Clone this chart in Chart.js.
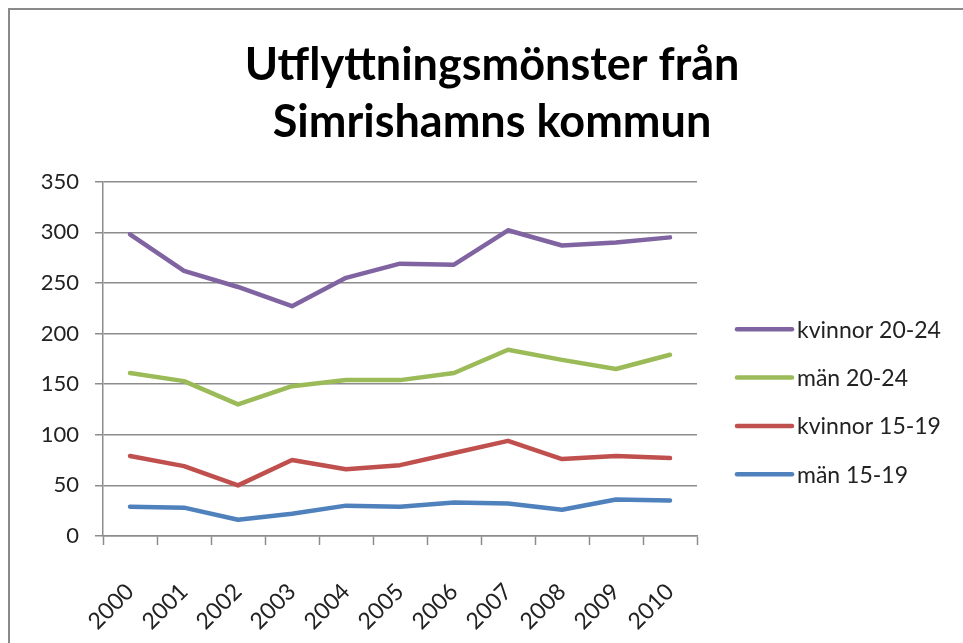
<!DOCTYPE html>
<html>
<head>
<meta charset="utf-8">
<script src="https://cdn.jsdelivr.net/npm/chart.js@4"></script>
<style>
  html, body { margin: 0; padding: 0; background: #fff; overflow: hidden; }
  #frame {
    position: absolute; left: 8px; top: 8px;
    width: 964px; height: 640px;
    border: 2px solid #8a8a8a;
  }
</style>
</head>
<body>
<div id="frame"><canvas id="grafico"></canvas></div>
<script>
// === Dados ===
const anos = ['2000', '2001', '2002', '2003', '2004', '2005', '2006', '2007', '2008', '2009', '2010'];
const kvinnor2024 = [298, 262, 246, 227, 255, 269, 268, 302, 287, 290, 295];
const man2024     = [161, 153, 130, 148, 154, 154, 161, 184, 174, 165, 179];
const kvinnor1519 = [79, 69, 50, 75, 66, 70, 82, 94, 76, 79, 77];
const man1519     = [29, 28, 16, 22, 30, 29, 33, 32, 26, 36, 35];
const yTicks = [0, 50, 100, 150, 200, 250, 300, 350];

const titel = ['Utflyttningsmönster från', 'Simrishamns kommun'];
const serieNamn = ['kvinnor 20-24', 'män 20-24', 'kvinnor 15-19', 'män 15-19'];
const farger = ['#8064A2', '#9BBB59', '#C0504D', '#4F81BD'];

const textColor = '#222';
const gridColor = '#8c8c8c';
const fontFamily = 'Lato, "Open Sans", sans-serif';

function serie(i, data) {
  return {
    label: serieNamn[i],
    data: data,
    borderColor: farger[i],
    backgroundColor: farger[i],
    borderWidth: 4.5,
    borderCapStyle: 'round',
    borderJoinStyle: 'round',
    pointRadius: 0,
    tension: 0
  };
}

// title centred over the whole frame + legend at the right, Excel style
const excelExtras = {
  id: 'excelExtras',
  afterDraw(chart) {
    const { ctx, chartArea } = chart;
    ctx.save();

    // title
    ctx.font = 'bold 45px ' + fontFamily;
    ctx.fillStyle = '#000';
    ctx.textAlign = 'center';
    ctx.textBaseline = 'middle';
    titel.forEach((rad, i) => ctx.fillText(rad, chart.width / 2, 55 + i * 57));

    // legend
    const x0 = chartArea.right + 40;
    ctx.font = '23px ' + fontFamily;
    ctx.textAlign = 'left';
    ctx.fillStyle = textColor;
    chart.data.datasets.forEach((ds, i) => {
      const y = 319.3 + i * 48.3;
      ctx.strokeStyle = ds.borderColor;
      ctx.lineWidth = 4.5;
      ctx.lineCap = 'round';
      ctx.beginPath();
      ctx.moveTo(x0, y);
      ctx.lineTo(x0 + 55, y);
      ctx.stroke();
      ctx.fillText(ds.label, x0 + 60, y + 1);
    });
    ctx.restore();
  }
};

new Chart(document.getElementById('grafico'), {
  type: 'line',
  data: {
    labels: anos,
    datasets: [
      serie(0, kvinnor2024),
      serie(1, man2024),
      serie(2, kvinnor1519),
      serie(3, man1519)
    ]
  },
  options: {
    responsive: true,
    maintainAspectRatio: false,
    animation: false,
    layout: { padding: { left: 0, right: 277, top: 171.7, bottom: 0 } },
    plugins: {
      legend: { display: false },
      tooltip: { enabled: false },
      title: { display: false }
    },
    scales: {
      x: {
        offset: true,
        grid: {
          offset: true,
          drawOnChartArea: false,
          drawTicks: true,
          tickLength: 9,
          tickWidth: 1.5,
          tickColor: gridColor
        },
        border: { display: true, color: gridColor, width: 1.5 },
        ticks: {
          color: textColor,
          font: { family: fontFamily, size: 23 },
          maxRotation: 45,
          minRotation: 45,
          padding: 33,
          autoSkip: false
        },
        afterFit(scale) { scale.height = 114; }
      },
      y: {
        min: 0,
        max: 350,
        afterBuildTicks(scale) { scale.ticks = yTicks.map(v => ({ value: v })); },
        grid: {
          color: gridColor,
          lineWidth: 1.5,
          drawTicks: true,
          tickLength: 8,
          tickColor: gridColor
        },
        border: { display: true, color: gridColor, width: 1.5 },
        ticks: {
          color: textColor,
          font: { family: fontFamily, size: 22 },
          padding: 16
        },
        afterFit(scale) { scale.width = 93; }
      }
    }
  },
  plugins: [excelExtras]
});
</script>
</body>
</html>
